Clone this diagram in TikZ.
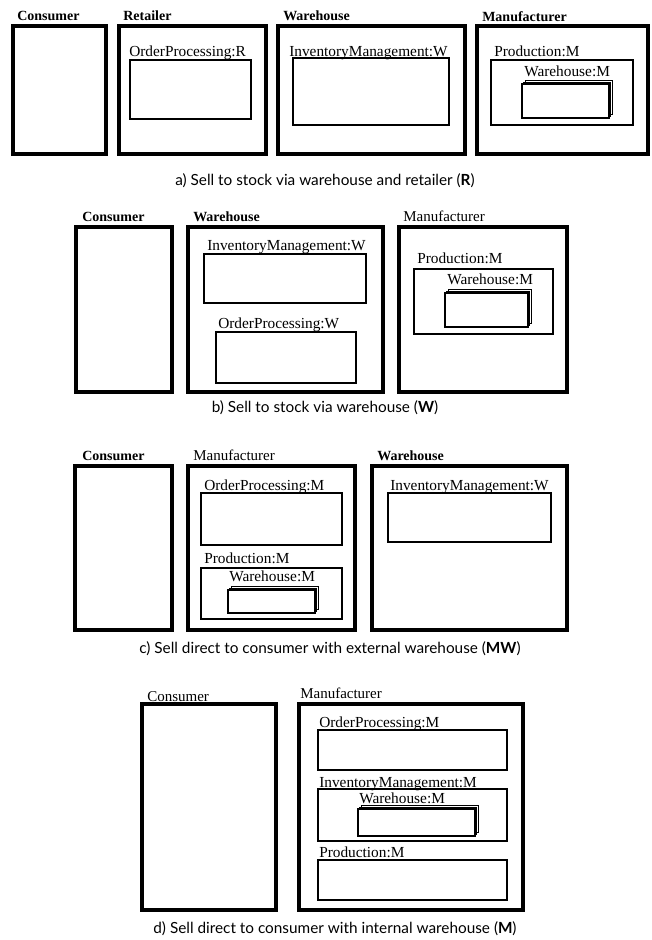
\documentclass[tikz,border=0pt]{standalone}
\usepackage{fontspec}
\setmainfont{Liberation Serif}
\newfontfamily\capfont{Lato}
\usetikzlibrary{fit, shadows}

\tikzset{
  org/.style={draw, line width=2.6pt, inner sep=0pt},
  proc/.style={draw, line width=0.9pt, inner sep=0pt},
  stock/.style={draw, fill=white, line width=1.1pt, inner sep=0pt,
    copy shadow={shadow xshift=2.6pt, shadow yshift=2.6pt, draw, fill=white, line width=0.6pt},
    copy shadow={shadow xshift=1.3pt, shadow yshift=1.3pt, draw, fill=white, line width=0.6pt}},
  boldname/.style={anchor=base west, inner sep=0pt, font=\fontsize{10.5}{12}\selectfont\bfseries},
  orgname/.style={anchor=base west, inner sep=0pt, font=\fontsize{11.25}{13}\selectfont},
  procname/.style={anchor=base west, inner sep=0pt, font=\fontsize{11.5}{13}\selectfont},
  caption/.style={inner sep=0pt, font=\capfont\fontsize{11.5}{14}\selectfont},
}

\begin{document}
\begin{tikzpicture}[x=0.75pt, y=-0.75pt]
  \useasboundingbox (0,0) rectangle (651,940);

  % a) retailer
  \node[org, fit={(13,26) (106,154)}] (a-con) {};
  \node[org, fit={(119,26) (266,154)}] (a-ret) {};
  \node[org, fit={(278,26) (465,154)}] (a-wh) {};
  \node[org, fit={(477,26) (648,154)}] (a-man) {};
  \node[boldname] (a-con-t) at (17,20) {Consumer};
  \node[boldname] (a-ret-t) at (123,20) {Retailer};
  \node[boldname] (a-wh-t) at (283,20) {Warehouse};
  \node[boldname] (a-man-t) at (482,21) {Manufacturer};
  \node[proc, fit={(130,60) (251,119)}] (a-op) {};
  \node[procname] (a-op-t) at (129,56) {OrderProcessing:R};
  \node[proc, fit={(293,58) (449,125)}] (a-im) {};
  \node[procname] (a-im-t) at (289,56) {InventoryManagement:W};
  \node[proc, fit={(491,60) (633,125)}] (a-prod) {};
  \node[procname] (a-prod-t) at (494,56) {Production:M};
  \node[stock, fit={(522,84) (609,118)}] (a-stock) {};
  \node[procname] (a-stock-t) at (524,76) {Warehouse:M};
  \node[caption] (a-cap) at (325,181) {a) Sell to stock via warehouse and retailer (\textbf{R})};

  % b) warehouse
  \node[org, fit={(76,227) (172,392)}] (b-con) {};
  \node[org, fit={(188,227) (383,392)}] (b-wh) {};
  \node[org, fit={(399,227) (567,392)}] (b-man) {};
  \node[boldname] (b-con-t) at (82,221) {Consumer};
  \node[boldname] (b-wh-t) at (193,221) {Warehouse};
  \node[orgname] (b-man-t) at (403,221) {Manufacturer};
  \node[proc, fit={(204,254) (366,303)}] (b-im) {};
  \node[procname] (b-im-t) at (207,250) {InventoryManagement:W};
  \node[proc, fit={(216,332) (356,383)}] (b-op) {};
  \node[procname] (b-op-t) at (218,328) {OrderProcessing:W};
  \node[proc, fit={(414,269) (553,334)}] (b-prod) {};
  \node[procname] (b-prod-t) at (417,263) {Production:M};
  \node[stock, fit={(445,293) (528,327)}] (b-stock) {};
  \node[procname] (b-stock-t) at (447,284) {Warehouse:M};
  \node[caption] (b-cap) at (325,408) {b) Sell to stock via warehouse (\textbf{W})};

  % c) external warehouse
  \node[org, fit={(75,466) (172,630)}] (c-con) {};
  \node[org, fit={(188,466) (355,630)}] (c-man) {};
  \node[org, fit={(372,466) (567,630)}] (c-wh) {};
  \node[boldname] (c-con-t) at (82,460) {Consumer};
  \node[orgname] (c-man-t) at (193,460) {Manufacturer};
  \node[boldname] (c-wh-t) at (377,460) {Warehouse};
  \node[proc, fit={(201,493) (342,545)}] (c-op) {};
  \node[procname] (c-op-t) at (204,490) {OrderProcessing:M};
  \node[proc, fit={(201,568) (342,619)}] (c-prod) {};
  \node[procname] (c-prod-t) at (204,563) {Production:M};
  \node[stock, fit={(228,590) (315,613)}] (c-stock) {};
  \node[procname] (c-stock-t) at (229,581) {Warehouse:M};
  \node[proc, fit={(388,493) (551,542)}] (c-im) {};
  \node[procname] (c-im-t) at (390,490) {InventoryManagement:W};
  \node[caption] (c-cap) at (330,649) {c) Sell direct to consumer with external warehouse (\textbf{MW})};

  % d) internal warehouse
  \node[org, fit={(142,704) (276,910)}] (d-con) {};
  \node[org, fit={(299,704) (523,910)}] (d-man) {};
  \node[orgname] (d-con-t) at (147,701) {Consumer};
  \node[orgname] (d-man-t) at (300,698) {Manufacturer};
  \node[proc, fit={(318,730) (507,770)}] (d-op) {};
  \node[procname] (d-op-t) at (319,727) {OrderProcessing:M};
  \node[proc, fit={(318,789) (507,841)}] (d-im) {};
  \node[procname] (d-im-t) at (319,787) {InventoryManagement:M};
  \node[stock, fit={(358,809) (475,836)}] (d-stock) {};
  \node[procname] (d-stock-t) at (359,803) {Warehouse:M};
  \node[proc, fit={(318,860) (507,900)}] (d-prod) {};
  \node[procname] (d-prod-t) at (319,857) {Production:M};
  \node[caption] (d-cap) at (335,929) {d) Sell direct to consumer with internal warehouse (\textbf{M})};
\end{tikzpicture}
\end{document}
